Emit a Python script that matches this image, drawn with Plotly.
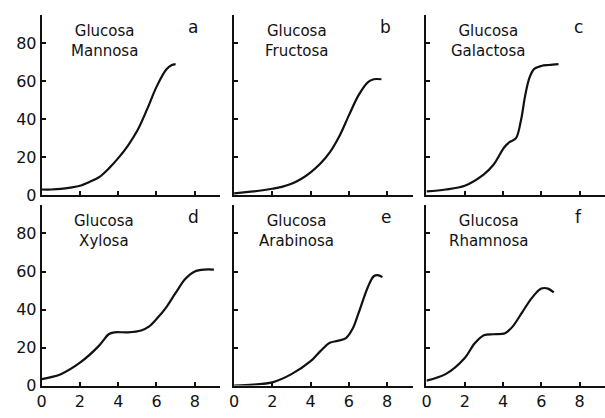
import plotly.graph_objects as go

# ---- data ----
panel_letters = ["a", "b", "c", "d", "e", "f"]
panel_names = ["Glucosa<br>Mannosa", "Glucosa<br>Fructosa", "Glucosa<br>Galactosa",
               "Glucosa<br>Xylosa", "Glucosa<br>Arabinosa", "Glucosa<br>Rhamnosa"]

x_a = [0, 0.5, 1, 1.5, 2, 2.5, 3, 3.5, 4, 4.5, 5, 5.5, 6, 6.5, 6.8, 7.0]
y_a = [3, 3, 3.3, 4, 5, 7, 9.5, 14, 19.5, 26, 34, 45, 57, 66, 68.5, 69]

x_b = [0, 0.5, 1, 1.5, 2, 2.5, 3, 3.5, 4, 4.5, 5, 5.5, 6, 6.5, 7, 7.3, 7.7]
y_b = [1, 1.5, 2, 2.6, 3.4, 4.4, 6, 8.5, 12, 16.5, 22.5, 31, 42, 52.5, 59.5, 61, 61]

x_c = [0, 1, 2, 3, 3.5, 4.05, 4.35, 4.68, 4.95, 5.15, 5.37, 5.63, 6.0, 6.4, 6.9]
y_c = [2, 3, 5, 11, 16, 25, 28, 30, 40, 52, 61.5, 66.5, 68, 68.5, 69]

x_d = [0, 1, 2, 3, 3.5, 3.8, 4.5, 5.2, 5.6, 6, 6.5, 7, 7.5, 8, 8.5, 9.0]
y_d = [3.4, 6, 12, 21, 27, 28, 28, 29, 31, 35, 41, 48.7, 56, 60, 61, 61]

x_e = [0, 1, 2, 3, 4, 4.5, 5, 5.4, 5.85, 6.2, 6.5, 7, 7.3, 7.55, 7.75]
y_e = [0, 0.5, 1.7, 6, 12.8, 18, 22.5, 23.5, 25, 30, 38, 52, 57.5, 58, 57]

x_f = [0, 1, 2, 2.5, 3, 3.5, 4.1, 4.5, 5, 5.5, 6, 6.35, 6.65]
y_f = [2.6, 6, 14.5, 22, 26.5, 27, 27.5, 31, 38.5, 46, 51, 51, 49]

xs = [x_a, x_b, x_c, x_d, x_e, x_f]
ys = [y_a, y_b, y_c, y_d, y_e, y_f]

x_ticks = [0, 2, 4, 6, 8]
y_ticks = [0, 20, 40, 60, 80]

W, H = 605, 418
col_domains = [[37 / W, 217 / W], [231 / W, 411 / W], [425 / W, 1.0]]
row_domains = [[1 - 200 / H, 1 - 15 / H], [1 - 395 / H, 1 - 210 / H]]

ink = "#111111"
font_family = "DejaVu Sans"

fig = go.Figure()
layout = dict(
    width=W, height=H, margin=dict(l=0, r=0, t=0, b=0),
    paper_bgcolor="white", plot_bgcolor="white", showlegend=False,
    font=dict(family=font_family, color=ink),
)
annotations = []

for i in range(6):
    r, c = divmod(i, 3)
    n = i + 1
    xa = "x" if n == 1 else f"x{n}"
    ya = "y" if n == 1 else f"y{n}"
    fig.add_trace(go.Scatter(x=xs[i], y=ys[i], mode="lines",
                             line=dict(color=ink, width=2.2, shape="spline", smoothing=0.9),
                             xaxis=xa, yaxis=ya, hoverinfo="skip"))
    xkey = "xaxis" if n == 1 else f"xaxis{n}"
    ykey = "yaxis" if n == 1 else f"yaxis{n}"
    layout[xkey] = dict(
        domain=col_domains[c], anchor=ya, range=[0, 9.33],
        showgrid=False, zeroline=False, showline=True, linecolor=ink, linewidth=2,
        tickvals=x_ticks, ticks="inside", ticklen=4, tickwidth=1.5, tickcolor=ink,
        showticklabels=(r == 1), tickfont=dict(size=16, color=ink, family=font_family),
    )
    layout[ykey] = dict(
        domain=row_domains[r], anchor=xa, range=[0, 95],
        showgrid=False, zeroline=False, showline=True, linecolor=ink, linewidth=2,
        tickvals=y_ticks, ticks="inside", ticklen=4, tickwidth=1.5, tickcolor=ink,
        showticklabels=(c == 0), tickfont=dict(size=16, color=ink, family=font_family),
    )
    annotations.append(dict(
        text=panel_names[i], xref=f"{xa} domain", yref=f"{ya} domain",
        x=0.35, y=0.97, xanchor="center", yanchor="top", showarrow=False,
        font=dict(size=15, color=ink, family=font_family), align="center",
    ))
    annotations.append(dict(
        text=panel_letters[i], xref=f"{xa} domain", yref=f"{ya} domain",
        x=0.85, y=1.0, xanchor="center", yanchor="top", showarrow=False,
        font=dict(size=17, color=ink, family=font_family),
    ))

layout["annotations"] = annotations
fig.update_layout(**layout)
fig.write_html("out.html")
